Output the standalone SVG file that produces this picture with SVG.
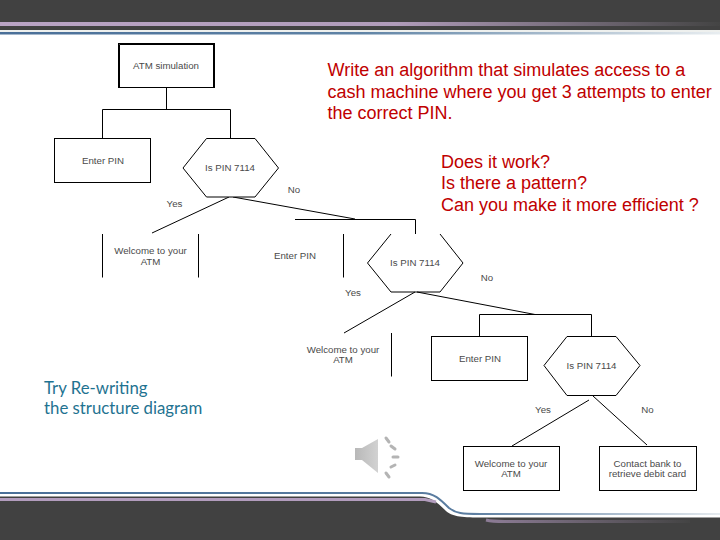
<svg xmlns="http://www.w3.org/2000/svg" width="720" height="540" viewBox="0 0 720 540">
<style>
.n{fill:#fff;stroke:#000;stroke-width:1}
.l{fill:none;stroke:#000;stroke-width:1}
.t{font-family:"Liberation Sans",Arial,sans-serif;font-size:9.700px;fill:#4a4a4a;text-anchor:middle}
.r{font-family:"Liberation Sans",Arial,sans-serif;font-size:18px;fill:#c00000}
.b{font-family:Lato,"Open Sans",sans-serif;font-size:16.800px;fill:#1f7391}
</style>
<defs>
<linearGradient id="pur" x1="0" x2="1" y1="0" y2="0"><stop offset="0" stop-color="#b9a3c4"/><stop offset=".55" stop-color="#b09cba"/><stop offset="1" stop-color="#444"/></linearGradient>
<linearGradient id="blu" x1="0" x2="1" y1="0" y2="0"><stop offset="0" stop-color="#4a6f98"/><stop offset=".5" stop-color="#5f83a5"/><stop offset="1" stop-color="#e8edf0"/></linearGradient>
<linearGradient id="blu2" gradientUnits="userSpaceOnUse" x1="0" x2="720" y1="0" y2="0"><stop offset="0" stop-color="#4a6f98"/><stop offset=".65" stop-color="#5b7da0"/><stop offset="1" stop-color="#e6ebef"/></linearGradient>
<linearGradient id="pur2" gradientUnits="userSpaceOnUse" x1="486" x2="690" y1="0" y2="0"><stop offset="0" stop-color="#8d7c96"/><stop offset="1" stop-color="#444"/></linearGradient>
<linearGradient id="spk" x1="0" x2="1" y1="0" y2="0"><stop offset="0" stop-color="#b8b8b8"/><stop offset="1" stop-color="#d2d2d2"/></linearGradient>
</defs>
<rect width="720" height="540" fill="#fff"/>
<g id="header">
<rect width="720" height="31" fill="#414141"/>
<rect y="22" width="720" height="4" fill="url(#pur)"/>
<rect y="30" width="720" height="2" fill="#eef0ee"/>
<rect y="32" width="720" height="2.500" fill="url(#blu)"/>
</g>
<g id="footer">
<path d="M0 496.500H420C430 496.500 437 502 446 511C452 516 460 517.500 480 517.500H720V540H0Z" fill="#414141"/>
<path d="M0 493H422C434 493 440 499 449 508C456 513.500 462 514 480 514H720" fill="none" stroke="url(#blu2)" stroke-width="2"/>
<path d="M0 499.500H425L436 502" fill="none" stroke="#b29cbd" stroke-width="3"/>
<path d="M486 520C492 521.500 496 521.500 505 521.500H690" fill="none" stroke="url(#pur2)" stroke-width="3"/>
</g>
<g id="connectors">
<path class="l" d="M166.500 87V109.500M102.500 109.500H230.500M102.500 109.500V138M230.500 109.500V138"/>
<path class="l" d="M229 197L152 233M233 197L355 219M295 219.500H415.500V234"/>
<path class="l" d="M415 292L344 333M417 292L535 314.500M479.500 314.500H591.500M479.500 314.500V336M591.500 314.500V336"/>
<path class="l" d="M589 400L512 446M593 396L647 445"/>
</g>
<g id="atm-simulation">
<rect class="n" x="118.500" y="43.500" width="96" height="44"/>
<path d="M119.500 44.500H214M119.500 44.500V87M213.500 44.500V87" fill="none" stroke="#000" stroke-width="1"/>
<text class="t" x="166" y="69">ATM simulation</text>
</g>
<g id="enter-pin-1">
<rect class="n" x="54.500" y="138.500" width="96" height="44"/>
<text class="t" x="103" y="163.500">Enter PIN</text>
</g>
<g id="decision-1">
<polygon class="n" points="206.500,138.500 255,138.500 278.500,168 255,197 206.500,197 183,168"/>
<text class="t" x="230" y="171">Is PIN 7114</text>
</g>
<g id="welcome-1">
<path class="l" d="M102.500 234V277.500M198.500 234V277.500"/>
<text class="t" x="150.500" y="254">Welcome to your</text>
<text class="t" x="150.500" y="264.500">ATM</text>
</g>
<g id="enter-pin-2">
<path class="l" d="M343.500 234V277.500"/>
<text class="t" x="295" y="259">Enter PIN</text>
</g>
<g id="decision-2">
<path class="l" d="M391 234L367.500 263L391 292H440L463 263L440 234"/>
<text class="t" x="415" y="266">Is PIN 7114</text>
</g>
<g id="welcome-2">
<path class="l" d="M391.500 333V376.500"/>
<text class="t" x="343" y="353">Welcome to your</text>
<text class="t" x="343" y="363">ATM</text>
</g>
<g id="enter-pin-3">
<rect class="n" x="431.500" y="336.500" width="96" height="44"/>
<text class="t" x="480" y="361.500">Enter PIN</text>
</g>
<g id="decision-3">
<polygon class="n" points="567,336.500 616,336.500 640,365.500 616,395.500 567,395.500 544,365.500"/>
<text class="t" x="591.500" y="369">Is PIN 7114</text>
</g>
<g id="welcome-3">
<rect class="n" x="463.500" y="446.500" width="96" height="44"/>
<text class="t" x="511" y="467">Welcome to your</text>
<text class="t" x="511" y="477">ATM</text>
</g>
<g id="contact-bank">
<rect class="n" x="599.500" y="446.500" width="97" height="44"/>
<text class="t" x="647.500" y="467">Contact bank to</text>
<text class="t" x="647.500" y="477">retrieve debit card</text>
</g>
<g id="edge-labels">
<text class="t" x="294" y="193">No</text>
<text class="t" x="174.500" y="207">Yes</text>
<text class="t" x="487" y="280.500">No</text>
<text class="t" x="353" y="295.500">Yes</text>
<text class="t" x="543" y="413">Yes</text>
<text class="t" x="647.500" y="413">No</text>
</g>
<g id="prompt">
<text class="r" x="327.500" y="75.500">Write an algorithm that simulates access to a</text>
<text class="r" x="327.500" y="97.500">cash machine where you get 3 attempts to enter</text>
<text class="r" x="327.500" y="118.500">the correct PIN.</text>
<text class="r" x="441" y="167.500">Does it work?</text>
<text class="r" x="441" y="189">Is there a pattern?</text>
<text class="r" x="441" y="210.500">Can you make it more efficient ?</text>
</g>
<g id="hint">
<text class="b" x="44" y="393.500">Try Re-writing</text>
<text class="b" x="44" y="413.500">the structure diagram</text>
</g>
<g id="speaker">
<polygon points="355,448 362,448 378,439 378,473 362,460 355,460" fill="url(#spk)"/>
<g stroke="#b4b4b4" stroke-width="3" stroke-linecap="round">
<path d="M386 438L389 442M391 446L395 449M393 457H398M391 467L395 465M386 473L389 477"/>
</g>
</g>
</svg>
